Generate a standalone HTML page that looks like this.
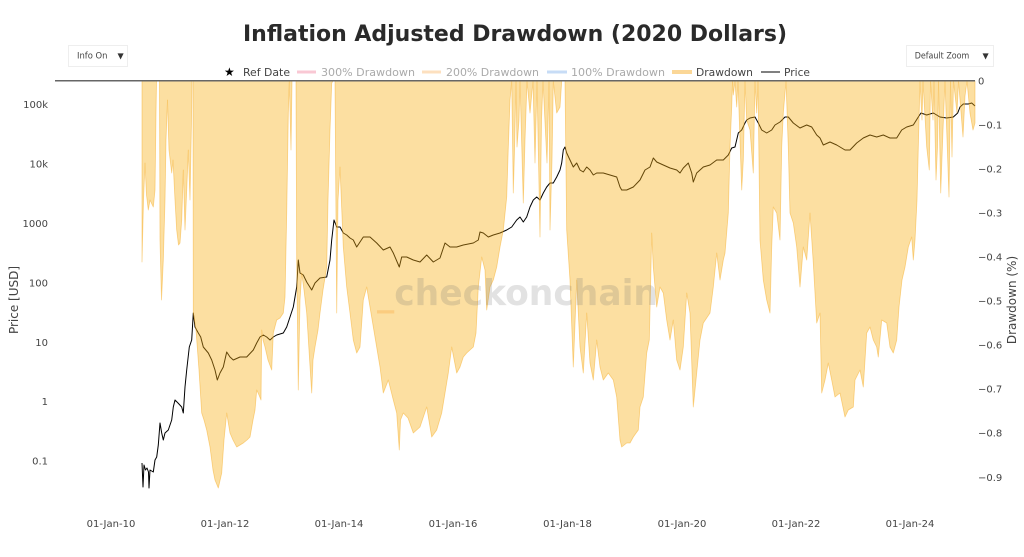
<!DOCTYPE html>
<html><head><meta charset="utf-8"><style>
html,body{margin:0;padding:0;background:#fff;}
svg{display:block;}
text{font-family:"DejaVu Sans","Liberation Sans",sans-serif;}
</style></head><body>
<svg width="1024" height="557" viewBox="0 0 1024 557" xmlns="http://www.w3.org/2000/svg">
<rect x="0" y="0" width="1024" height="557" fill="#fff"/>

<!-- title -->
<text x="243" y="41" font-size="22" font-weight="bold" fill="#2a2a2a" textLength="544" lengthAdjust="spacingAndGlyphs">Inflation Adjusted Drawdown (2020 Dollars)</text>

<!-- dropdowns -->
<rect x="68.5" y="45.5" width="59" height="21" fill="#fff" stroke="#eeeeee"/>
<text x="77" y="58.5" font-size="8.5" fill="#444" textLength="30.5" lengthAdjust="spacingAndGlyphs">Info On</text>
<text x="117.5" y="58.5" font-size="8" fill="#333">▼</text>
<rect x="906.5" y="45.5" width="87" height="21" fill="#fff" stroke="#eeeeee"/>
<text x="914.7" y="58.5" font-size="8.5" fill="#444" textLength="54.6" lengthAdjust="spacingAndGlyphs">Default Zoom</text>
<text x="982.5" y="58.5" font-size="8" fill="#333">▼</text>

<!-- legend -->
<text x="224" y="76" font-size="12" fill="#000">★</text>
<text x="243" y="76" font-size="11" fill="#444" textLength="47" lengthAdjust="spacingAndGlyphs">Ref Date</text>
<line x1="297" y1="72" x2="316" y2="72" stroke="#f9c8d4" stroke-width="3"/>
<text x="321" y="76" font-size="11" fill="#aaa" textLength="94" lengthAdjust="spacingAndGlyphs">300% Drawdown</text>
<line x1="422" y1="72" x2="441" y2="72" stroke="#fde0bf" stroke-width="3"/>
<text x="446" y="76" font-size="11" fill="#aaa" textLength="93" lengthAdjust="spacingAndGlyphs">200% Drawdown</text>
<line x1="547" y1="72" x2="567" y2="72" stroke="#c7dcf6" stroke-width="3"/>
<text x="571" y="76" font-size="11" fill="#aaa" textLength="94" lengthAdjust="spacingAndGlyphs">100% Drawdown</text>
<line x1="672" y1="72" x2="692" y2="72" stroke="#fbd797" stroke-width="4"/>
<text x="696" y="76" font-size="11" fill="#444" textLength="57" lengthAdjust="spacingAndGlyphs">Drawdown</text>
<line x1="761" y1="72" x2="780" y2="72" stroke="#000" stroke-width="1"/>
<text x="784" y="76" font-size="11" fill="#444" textLength="26" lengthAdjust="spacingAndGlyphs">Price</text>

<!-- price line -->
<polyline fill="none" stroke="#000" stroke-width="1" stroke-linejoin="round" points="142,463 143,487 144,465 145.5,470 147,468 148.5,472 149,488 150,470 153.3,472 155,460 156.7,457 158.3,445 160,423 161.7,433 163.3,440 165,433 168.3,430 171.7,420 173.3,407 175,400 178,403 181.7,407 183.3,413 185,387 186.7,370 189.3,347 191.7,340 193.3,313 195,327 198.3,333 200.7,337 203.3,347 208.3,353 211.7,360 215,370 217.3,380 220,373 223.3,367 226.7,352 230,357 233.3,360 240,357 246.7,357 253.3,350 256.7,343 260,337 263.3,335 266.7,337 270,340 273.3,337 276.7,335 283.3,333 286.7,327 290,317 293.3,307 296.7,287 298.3,260 300,273 303.3,275 306.7,282 311.7,290 315,283 320,278 326.7,277 330,260 331.7,240 334,220 336.7,227 340,227 343.3,233 346.7,235 350,238 353.3,240 356.7,247 360,242 363.3,237 370,237 376.7,243 383.3,250 390,247 393.3,253 399.3,267 401.7,257 406.7,257 413.3,260 420,262 426.7,255 433.3,262 440,258 445,243 450,247 456.7,247 463.3,245 473.3,243 478.3,240 480,232 483.3,233 488.3,237 493.3,235 500,233 506.7,230 511.7,227 516.7,220 520,217 523.3,222 526.7,217 530,207 533.3,200 536.7,197 540,200 543.3,193 546.7,187 550,183 553.3,183 556.7,177 560,170 561.7,163 563.3,150 565,147 566.7,153 570,160 573.3,167 576.7,163 580,170 583.3,172 586.7,167 590,170 593.3,175 596.7,173 603.3,173 610,175 616.7,177 620,187 621.7,190 626.7,190 633.3,187 640,180 645,170 650,167 653.3,158 656.7,162 663.3,165 670,168 676.7,170 680,173 683.3,168 688.3,163 691.7,173 693.3,182 696.7,173 703.3,167 710,165 716.7,160 723.3,160 728.3,155 731.7,148 735,147 738.3,133 741.7,130 745,123 746.7,120 750,118 755,117 758.3,123 761.7,130 766.7,133 771.7,130 775,125 780,122 785,117 788.3,117 793.3,123 800,128 806.7,125 811.7,127 816.7,135 820,138 823.3,145 830,142 836.7,145 845,150 850,150 856.7,143 863.3,138 870,135 876.7,137 883.3,135 890,138 896.7,138 901.7,130 906.7,127 913.3,125 918.3,117 921,113 926.7,115 933.3,113 940,117 946.7,118 953.3,117 957.7,113 960,107 963.3,104 968.3,104 971.7,103 975,106"/>

<!-- drawdown fill -->
<polygon fill="rgba(247,176,20,0.4)" stroke="rgba(245,172,35,0.5)" stroke-width="0.8" stroke-linejoin="round" points="142,81 142,262 143.5,200 145,163 146.5,195 148.3,210 150,200 153.3,207 155,190 156,113 156.5,81 159.5,81 160,240 161.5,300 163.3,260 165,200 166,140 167.5,100 169,150 171.7,173 173,160 175,200 176.7,230 178.5,245 180,243 181.7,220 183.3,170 185,230 186.7,190 188.3,150 190,200 191.5,120 192,81 193,81 193.3,313 196,330 199,370 201.7,413 204,420 206.7,430 210,447 213,470 215,480 218.3,488 221.7,473 224,440 226.7,413 230,433 233,440 236.7,447 240,445 243.3,443 247,440 250,437 253,420 255,410 256.7,390 259,395 261,400 261.7,330 263,340 265,347 268,360 271.7,370 273.3,333 276.7,320 280,318 283.3,313 285,297 286.7,213 288.3,113 289.3,81 291,150 292,81 296,81 296.7,260 298.3,390 300,300 301.7,273 304,290 306.7,313 309,350 311.7,393 313,360 315,347 318,330 320,313 323,290 326.7,267 328,200 330,130 331.7,83 333,81 335,81 336.7,313 338,200 340,167 343.3,247 346.7,287 350,313 353.3,340 356.7,353 360,347 363.3,300 366.7,287 370,307 375,337 380,367 383.3,393 388.3,380 393.3,400 396.7,413 399.3,450 400.5,420 403.3,413 408,418 413.3,433 420,427 426.7,407 431.7,437 436.7,430 441.7,413 445,393 448.3,373 451.7,347 456.7,373 460,367 463.3,357 466.7,353 473.3,347 476,333 478.3,287 481.7,257 485,270 486.7,310 490,287 493.3,280 496.7,267 500,247 503.3,230 506.7,197 508.3,147 510,100 511.7,81 513.3,193 514.5,150 516,81 517,147 519,120 520,81 523.3,203 525,140 527,81 530,113 533,81 535,163 537,81 540,237 541.5,120 543,81 547,163 549,81 550,230 552,160 553.3,81 556.7,113 560,107 561.7,81 565,81 566.7,230 570,280 573.3,367 576.7,280 580,347 583.3,373 586.7,313 590,363 593.3,380 596.7,340 600,367 603.3,380 608.3,373 613.3,380 616.7,397 620,440 621.7,447 626.7,443 630,443 633.3,437 638.3,430 640,407 643.3,397 646.7,353 649.3,340 650.7,280 651.7,233 653.3,267 656.7,307 660,287 663.3,293 666.7,320 670,340 673.3,320 676.7,360 680,370 683.3,347 686.7,293 690,313 693.3,407 696.7,373 700,340 703.3,323 710,313 713.3,287 716.7,253 720,280 723.3,260 725,253 728.3,213 730,147 731.7,107 732.5,81 733.3,95 735,81 736.7,107 738,81 741.7,190 743.3,160 745,81 746.7,120 750,130 753.3,173 755,81 756.7,113 758,81 760,240 763.3,280 766.7,300 770,313 771.7,247 773.3,207 776.7,213 780,240 781.7,147 783.3,113 786,81 788.3,147 790,213 793.3,223 796.7,247 800,287 803.3,247 806.7,260 810,213 813.3,263 816.7,323 820,313 821.7,393 825,380 828.3,363 831.7,380 835,397 840,393 845,417 848.3,410 853.3,407 855,380 860,370 863.3,387 866.7,333 870,327 873.3,340 876.7,347 878.3,357 881.7,320 886.7,323 890,347 893.3,353 896.7,340 899,307 902,280 905,267 908.3,247 911.7,237 913.3,260 915,240 917,200 918.3,147 920,81 922,120 923,81 926.7,147 929.3,170 930.5,81 933,120 934,81 936,180 937.5,147 938.5,81 940.7,193 943,130 945,81 949,197 950.5,81 952,157 953.5,81 957,113 958.5,81 963,137 965,96 967,81 970,113 973,130 975,123 975,81"/>

<!-- watermark -->
<text x="377" y="305" font-size="36" font-weight="bold" textLength="281" lengthAdjust="spacingAndGlyphs"><tspan fill="rgba(247,147,26,0.25)">_</tspan><tspan fill="rgba(110,110,110,0.2)">checkonchain</tspan></text>

<!-- top axis line -->
<line x1="55" y1="80.8" x2="975" y2="80.8" stroke="#666" stroke-width="1.5"/>

<!-- left axis labels -->
<g font-size="10" fill="#444" text-anchor="end">
<text x="48" y="108.2">100k</text>
<text x="48" y="167.6">10k</text>
<text x="48" y="227">1000</text>
<text x="48" y="286.4">100</text>
<text x="48" y="345.8">10</text>
<text x="48" y="405.2">1</text>
<text x="48" y="464.6">0.1</text>
</g>
<text transform="translate(18,300) rotate(-90)" font-size="12" fill="#444" text-anchor="middle">Price [USD]</text>

<!-- right axis labels -->
<g font-size="10" fill="#444">
<text x="978" y="84.5">0</text>
<text x="978" y="128.5">−0.1</text>
<text x="978" y="172.6">−0.2</text>
<text x="978" y="216.6">−0.3</text>
<text x="978" y="260.6">−0.4</text>
<text x="978" y="304.7">−0.5</text>
<text x="978" y="348.7">−0.6</text>
<text x="978" y="392.7">−0.7</text>
<text x="978" y="436.7">−0.8</text>
<text x="978" y="480.8">−0.9</text>
</g>
<text transform="translate(1016,300) rotate(-90)" font-size="12" fill="#444" text-anchor="middle">Drawdown (%)</text>

<!-- x axis labels -->
<g font-size="10" fill="#444" text-anchor="middle">
<text x="111" y="527">01-Jan-10</text>
<text x="225" y="527">01-Jan-12</text>
<text x="339" y="527">01-Jan-14</text>
<text x="453" y="527">01-Jan-16</text>
<text x="567.5" y="527">01-Jan-18</text>
<text x="682" y="527">01-Jan-20</text>
<text x="796" y="527">01-Jan-22</text>
<text x="910" y="527">01-Jan-24</text>
</g>
</svg>
</body></html>
